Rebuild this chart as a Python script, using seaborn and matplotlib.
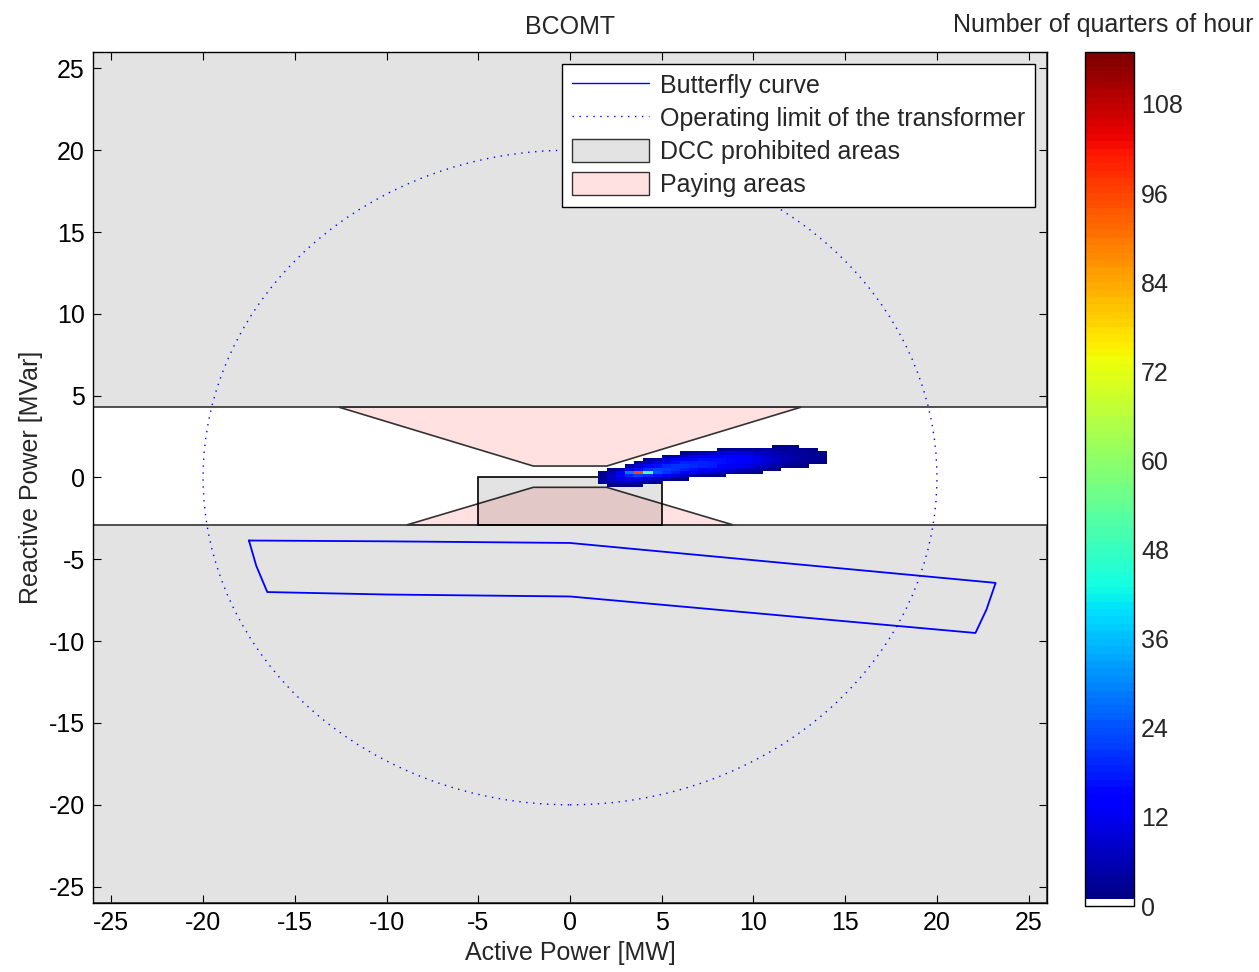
import numpy as np
import pandas as pd
import matplotlib
matplotlib.use("Agg")
import matplotlib.pyplot as plt
import seaborn as sns
from matplotlib.colors import ListedColormap, Normalize
from matplotlib.cm import ScalarMappable
from matplotlib.patches import Polygon, Rectangle, Circle, Patch
from matplotlib.lines import Line2D

# ---------------- data ----------------
title = "BCOMT"
butterfly_p = [-17.5, -17.1, -16.5, -10.0, 0.0, 22.1, 22.7, 23.2, 0.0, -10.0, -17.5]
butterfly_q = [-3.85, -5.4, -7.0, -7.15, -7.27, -9.5, -8.07, -6.44, -4.0, -3.9, -3.85]

transformer_limit_s = 20.0

prohibited_upper_q = 4.3
prohibited_lower_q = -2.9
prohibited_rect_p = [-5.0, 5.0]
prohibited_rect_q = [-2.9, 0.0]

paying_upper_p = [-12.6, 12.6, 2.0, -2.0]
paying_upper_q = [4.3, 4.3, 0.7, 0.7]
paying_lower_p = [-8.9, 8.9, 2.0, -2.0]
paying_lower_q = [-2.9, -2.9, -0.6, -0.6]

# 2-D histogram of operating points (quarters of hour per cell)
hist_p_edges = [1.5, 2.0, 2.5, 3.0, 3.5, 4.0, 4.5, 5.0, 5.5, 6.0, 6.5, 7.0, 7.5,
                8.0, 8.5, 9.0, 9.5, 10.0, 10.5, 11.0, 11.5, 12.0, 12.5, 13.0, 13.5, 14.0]
hist_q_edges = [-0.6, -0.4, -0.2, 0.0, 0.2, 0.4, 0.6, 0.8, 1.0, 1.2, 1.4, 1.6, 1.8, 2.0]
# rows from top (q 1.8-2.0) to bottom (q -0.6--0.4)
hist_counts_rows = [
    [0, 0, 0, 0, 0, 0, 0, 0, 0, 0, 0, 0, 0, 0, 0, 0, 0, 0, 0, 1, 2, 1, 0, 0, 0],
    [0, 0, 0, 0, 0, 0, 0, 0, 0, 0, 0, 0, 0, 1, 2, 3, 3, 3, 4, 3, 2, 3, 2, 1, 0],
    [0, 0, 0, 0, 0, 0, 0, 0, 0, 2, 4, 6, 8, 9, 10, 10, 9, 7, 6, 5, 4, 3, 3, 2, 1],
    [0, 0, 0, 0, 0, 0, 0, 2, 5, 8, 11, 12, 13, 14, 14, 13, 12, 10, 8, 6, 5, 4, 3, 3, 2],
    [0, 0, 0, 0, 0, 2, 5, 9, 12, 14, 15, 16, 16, 16, 15, 14, 13, 11, 9, 7, 5, 4, 3, 2, 1],
    [0, 0, 0, 0, 3, 7, 11, 14, 16, 18, 18, 18, 17, 16, 15, 14, 12, 10, 8, 6, 4, 3, 2, 1, 1],
    [0, 0, 0, 3, 8, 13, 16, 19, 20, 20, 19, 18, 17, 15, 13, 12, 10, 8, 6, 4, 2, 1, 1, 0, 0],
    [0, 1, 5, 11, 16, 20, 22, 21, 20, 18, 16, 14, 13, 11, 9, 7, 5, 4, 2, 1, 0, 0, 0, 0, 0],
    [1, 5, 12, 28, 95, 50, 24, 20, 17, 14, 12, 10, 8, 6, 4, 3, 2, 1, 0, 0, 0, 0, 0, 0, 0],
    [2, 7, 13, 18, 21, 19, 16, 13, 10, 7, 5, 3, 2, 1, 0, 0, 0, 0, 0, 0, 0, 0, 0, 0, 0],
    [3, 7, 10, 11, 10, 8, 5, 3, 1, 1, 0, 0, 0, 0, 0, 0, 0, 0, 0, 0, 0, 0, 0, 0, 0],
    [2, 4, 5, 4, 3, 2, 1, 0, 0, 0, 0, 0, 0, 0, 0, 0, 0, 0, 0, 0, 0, 0, 0, 0, 0],
    [0, 1, 2, 1, 1, 0, 0, 0, 0, 0, 0, 0, 0, 0, 0, 0, 0, 0, 0, 0, 0, 0, 0, 0, 0],
]
cbar_max = 115
cbar_ticks = [0, 12, 24, 36, 48, 60, 72, 84, 96, 108]
axis_ticks = [-25, -20, -15, -10, -5, 0, 5, 10, 15, 20, 25]
legend_labels = ["Butterfly curve", "Operating limit of the transformer",
                 "DCC prohibited areas", "Paying areas"]

# ---------------- style ----------------
sns.set_style("ticks")
plt.rcParams["font.family"] = ["Liberation Sans", "DejaVu Sans"]
plt.rcParams["axes.unicode_minus"] = False
FS = 18

fig = plt.figure(figsize=(12.59, 9.72), dpi=100)
ax = fig.add_axes([93 / 1259, 1 - 903 / 972, (1047 - 93) / 1259, (903 - 52) / 972])
cax = fig.add_axes([1085 / 1259, 1 - 906 / 972, (1134 - 1085) / 1259, (906 - 52) / 972])

lim = (-26, 26)
ax.set_xlim(lim)
ax.set_ylim(lim)

gray_rgba = (0, 0, 0, 0.11)
pink = "#FFE1E1"
edge_c = "#333333"

# paying areas
ax.add_patch(Polygon(np.column_stack([paying_upper_p, paying_upper_q]), closed=True,
                     fc=pink, ec=edge_c, lw=1.2, zorder=1))
ax.add_patch(Polygon(np.column_stack([paying_lower_p, paying_lower_q]), closed=True,
                     fc=pink, ec=edge_c, lw=1.2, zorder=1))
# prohibited areas
ax.axhspan(prohibited_upper_q, lim[1], fc=gray_rgba, ec=edge_c, lw=1.2, zorder=2)
ax.axhspan(lim[0], prohibited_lower_q, fc=gray_rgba, ec=edge_c, lw=1.2, zorder=2)
ax.add_patch(Rectangle((prohibited_rect_p[0], prohibited_rect_q[0]),
                       prohibited_rect_p[1] - prohibited_rect_p[0],
                       prohibited_rect_q[1] - prohibited_rect_q[0],
                       fc=gray_rgba, ec="black", lw=1.2, zorder=2))

# colormap: jet with white for zero
cols = plt.get_cmap("jet")(np.linspace(0, 1, cbar_max))
cols[0] = [1, 1, 1, 1]
cmap = ListedColormap(cols)

# histogram
p_centers = (np.array(hist_p_edges[:-1]) + np.array(hist_p_edges[1:])) / 2
q_centers = (np.array(hist_q_edges[:-1]) + np.array(hist_q_edges[1:])) / 2
counts = np.array(hist_counts_rows)[::-1]  # bottom row first
PP, QQ = np.meshgrid(p_centers, q_centers)
df = pd.DataFrame({"p": PP.ravel(), "q": QQ.ravel(), "n": counts.ravel()})
sns.histplot(data=df, x="p", y="q", weights="n", bins=[hist_p_edges, hist_q_edges],
             cmap=cmap, vmin=0, vmax=cbar_max, ax=ax, zorder=3)

# transformer limit
ax.add_patch(Circle((0, 0), transformer_limit_s, fill=False, ec="blue",
                    ls=(0, (1, 4)), lw=1.0, zorder=4))
# butterfly curve
sns.lineplot(x=butterfly_p, y=butterfly_q, sort=False, estimator=None,
             color="blue", lw=1.3, ax=ax, zorder=5)

ax.set_xlim(lim)
ax.set_ylim(lim)
ax.set_xticks(axis_ticks)
ax.set_yticks(axis_ticks)
ax.tick_params(direction="in", top=True, right=True, length=6, width=0.8,
               labelsize=FS, pad=6, colors="black")
for s in ax.spines.values():
    s.set_visible(True)
    s.set_linewidth(1.0)
    s.set_color("black")
    s.set_zorder(10)
ax.set_xlabel("Active Power [MW]", fontsize=FS, labelpad=4)
ax.set_ylabel("Reactive Power [MVar]", fontsize=FS, labelpad=4)
ax.set_title(title, fontsize=FS, pad=13)

handles = [
    Line2D([], [], color="blue", lw=1.0),
    Line2D([], [], color="blue", lw=1.0, ls=(0, (1, 4))),
    Patch(fc=(0.89, 0.89, 0.89), ec=edge_c, lw=1.0),
    Patch(fc=pink, ec=edge_c, lw=1.0),
]
leg = ax.legend(handles, legend_labels, loc="upper right", fontsize=FS,
                frameon=True, fancybox=False, framealpha=1, edgecolor="black",
                handlelength=3.1, handleheight=1.0, handletextpad=0.45,
                borderpad=0.38, labelspacing=0.33, borderaxespad=0.48)
leg.get_frame().set_linewidth(1.0)
leg.set_zorder(20)

# colorbar
cb = fig.colorbar(ScalarMappable(norm=Normalize(0, cbar_max), cmap=cmap),
                  cax=cax, ticks=cbar_ticks)
cax.tick_params(direction="in", left=True, right=True, length=6, width=0.8,
                labelsize=FS, pad=5)
cb.outline.set_linewidth(1.0)
cb.outline.set_edgecolor("black")
fig.text(1103 / 1259, 1 - 25 / 972, "Number of quarters of hour",
         ha="center", va="center", fontsize=FS)

fig.savefig("out.png", dpi=100)
